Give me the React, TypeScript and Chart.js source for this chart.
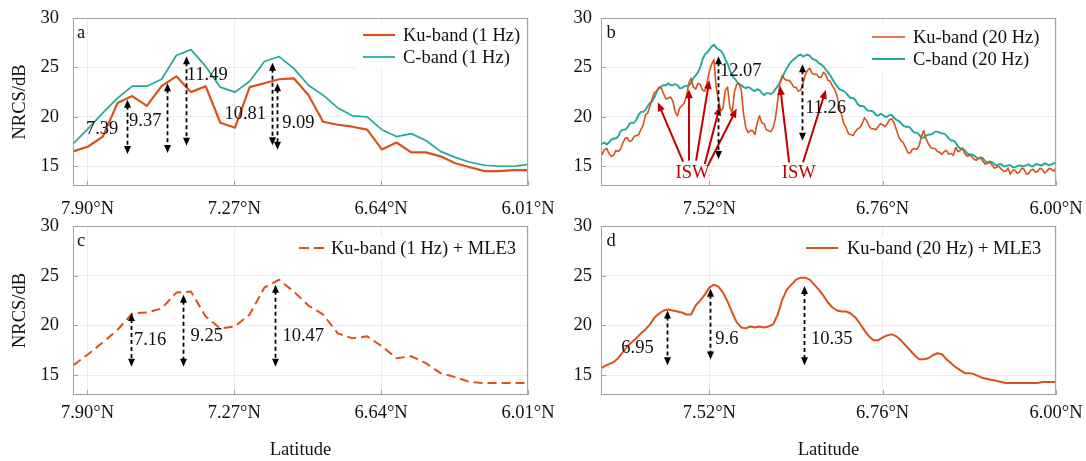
import React, { useEffect, useRef } from 'react';
import { Chart, registerables } from 'chart.js';

Chart.register(...registerables);

const FONT = '"Liberation Serif", "Times New Roman", Times, serif';
const FS = 18.5;
const KU = '#d95319';
const CB = '#20a89c';
const RED = '#c00000';
const TXT = '#111111';
const GRID = '#ebebeb';
const AXIS = '#a3a3a3';

// ---------- 1 Hz data (panels a, c) ----------
const lat1Hz = [7.960, 7.897, 7.834, 7.771, 7.708, 7.645, 7.582, 7.519, 7.456, 7.393, 7.330, 7.267, 7.204, 7.141, 7.078, 7.015,
  6.952, 6.889, 6.826, 6.763, 6.700, 6.637, 6.574, 6.511, 6.448, 6.385, 6.322, 6.259, 6.196, 6.133, 6.070, 6.007];
const ku1Hz = [16.5, 17.0, 18.0, 21.4, 22.1, 21.1, 23.1, 24.1, 22.5, 23.1, 19.4, 18.9, 23.0, 23.4, 23.8, 23.9,
  22.2, 19.5, 19.2, 19.0, 18.7, 16.7, 17.4, 16.4, 16.4, 16.0, 15.3, 14.9, 14.5, 14.5, 14.6, 14.6];
const c1Hz = [17.3, 18.8, 20.4, 21.9, 23.1, 23.1, 23.8, 26.2, 26.8, 25.1, 23.0, 22.5, 23.6, 25.6, 26.1, 24.9,
  23.2, 22.2, 20.9, 20.1, 20.0, 18.7, 18.0, 18.3, 17.6, 16.5, 15.9, 15.4, 15.1, 15.0, 15.0, 15.2];
const ku1HzMle3 = [16.0, 17.1, 18.3, 19.55, 21.2, 21.3, 21.7, 23.3, 23.4, 20.9, 19.7, 19.9, 21.1, 23.8, 24.6, 23.4,
  22.0, 21.1, 19.2, 18.7, 18.9, 17.9, 16.7, 16.9, 16.2, 15.2, 14.8, 14.3, 14.2, 14.2, 14.2, 14.2];

// ---------- 20 Hz data (panel b) ----------
const lat20Hz = [
  8.00, 7.99, 7.98, 7.97, 7.96, 7.95, 7.94, 7.93, 7.92, 7.91, 7.90, 7.89, 7.88, 7.87, 7.86, 7.85, 7.84, 7.83, 7.82, 7.81,
  7.80, 7.79, 7.78, 7.77, 7.76, 7.75, 7.74, 7.73, 7.72, 7.71, 7.70, 7.69, 7.68, 7.67, 7.66, 7.65, 7.64, 7.63, 7.62, 7.61,
  7.60, 7.59, 7.58, 7.57, 7.56, 7.55, 7.54, 7.53, 7.52, 7.51, 7.50, 7.49, 7.48, 7.47, 7.46, 7.45, 7.44, 7.43, 7.42, 7.41,
  7.40, 7.39, 7.38, 7.37, 7.36, 7.35, 7.34, 7.33, 7.32, 7.31, 7.30, 7.29, 7.28, 7.27, 7.26, 7.25, 7.24, 7.23, 7.22, 7.21,
  7.20, 7.19, 7.18, 7.17, 7.16, 7.15, 7.14, 7.13, 7.12, 7.11, 7.10, 7.09, 7.08, 7.07, 7.06, 7.05, 7.04, 7.03, 7.02, 7.01,
  7.00, 6.99, 6.98, 6.97, 6.96, 6.95, 6.94, 6.93, 6.92, 6.91, 6.90, 6.89, 6.88, 6.87, 6.86, 6.85, 6.84, 6.83, 6.82, 6.81,
  6.80, 6.79, 6.78, 6.77, 6.76, 6.75, 6.74, 6.73, 6.72, 6.71, 6.70, 6.69, 6.68, 6.67, 6.66, 6.65, 6.64, 6.63, 6.62, 6.61,
  6.60, 6.59, 6.58, 6.57, 6.56, 6.55, 6.54, 6.53, 6.52, 6.51, 6.50, 6.49, 6.48, 6.47, 6.46, 6.45, 6.44, 6.43, 6.42, 6.41,
  6.40, 6.39, 6.38, 6.37, 6.36, 6.35, 6.34, 6.33, 6.32, 6.31, 6.30, 6.29, 6.28, 6.27, 6.26, 6.25, 6.24, 6.23, 6.22, 6.21,
  6.20, 6.19, 6.18, 6.17, 6.16, 6.15, 6.14, 6.13, 6.12, 6.11, 6.10, 6.09, 6.08, 6.07, 6.06, 6.05, 6.04, 6.03, 6.02, 6.01,
  6.00];
const ku20Hz = [
  16.4, 16.2, 16.7, 16.8, 16.3, 16.0, 16.1, 16.6, 16.5, 16.7, 17.3, 17.8, 17.9, 17.5, 17.6, 18.0, 18.1, 18.2, 18.7, 19.2,
  20.2, 20.4, 21.1, 21.9, 22.5, 22.6, 23.0, 22.9, 22.3, 21.8, 21.9, 22.0, 21.6, 20.5, 20.1, 20.9, 21.1, 21.4, 22.1, 23.4,
  23.9, 23.0, 22.8, 23.4, 23.3, 22.7, 22.6, 23.5, 24.6, 25.3, 25.8, 23.0, 21.7, 20.6, 20.9, 22.7, 23.0, 21.0, 20.4, 22.5,
  23.3, 23.4, 22.7, 20.3, 18.9, 18.4, 18.6, 18.6, 18.2, 19.4, 20.1, 19.4, 19.3, 18.7, 18.6, 18.5, 18.9, 19.9, 21.7, 23.5,
  24.2, 23.8, 23.7, 23.7, 23.4, 23.0, 23.0, 22.6, 22.7, 23.3, 24.2, 24.7, 24.9, 24.4, 24.3, 24.3, 24.0, 24.0, 24.5, 24.3,
  23.7, 23.6, 23.1, 22.8, 22.1, 21.0, 20.2, 19.3, 18.9, 18.3, 18.2, 18.1, 18.5, 18.8, 18.9, 19.3, 19.9, 19.6, 19.1, 18.8,
  18.8, 18.7, 19.0, 19.3, 19.2, 19.0, 19.3, 19.7, 19.8, 19.4, 18.7, 18.0, 17.6, 17.4, 16.9, 16.4, 16.3, 16.7, 16.8, 16.7,
  17.1, 18.0, 18.6, 17.8, 17.3, 16.9, 16.8, 16.8, 16.5, 16.4, 16.2, 16.5, 16.6, 16.2, 16.3, 16.1, 16.9, 16.5, 16.6, 16.8,
  16.3, 16.0, 16.1, 16.0, 15.7, 15.6, 15.8, 15.8, 15.5, 15.2, 15.3, 15.4, 15.1, 14.8, 14.9, 15.0, 14.7, 14.5, 14.5, 14.8,
  14.2, 14.6, 14.6, 14.3, 14.4, 14.8, 14.7, 14.2, 14.3, 14.6, 14.7, 14.4, 14.5, 14.8, 14.7, 14.3, 14.5, 14.8, 14.7, 14.5,
  14.8];
const c20Hz = [
  17.0, 17.3, 17.4, 17.2, 17.4, 17.7, 17.8, 17.8, 18.0, 18.5, 18.7, 18.7, 18.9, 19.3, 19.4, 19.4, 19.7, 20.2, 20.5, 20.5,
  20.7, 21.1, 21.4, 21.6, 22.0, 22.6, 22.9, 23.1, 23.2, 23.2, 23.4, 23.2, 23.2, 23.3, 23.2, 22.9, 22.9, 23.1, 23.1, 23.2,
  23.4, 23.9, 24.2, 24.5, 25.0, 25.8, 26.3, 26.5, 26.8, 27.1, 27.3, 27.0, 26.8, 26.7, 26.4, 25.8, 25.4, 24.7, 24.2, 23.9,
  23.6, 23.3, 23.2, 23.0, 22.9, 23.0, 22.9, 22.7, 22.6, 22.8, 22.7, 22.4, 22.2, 22.4, 22.4, 22.3, 22.5, 22.8, 23.1, 23.5,
  24.0, 24.5, 24.9, 25.3, 25.6, 25.8, 26.0, 26.2, 26.3, 26.1, 26.2, 26.3, 26.2, 25.9, 25.8, 25.7, 25.4, 25.3, 25.1, 24.8,
  24.5, 24.2, 23.8, 23.4, 23.1, 22.8, 22.7, 22.6, 22.4, 22.1, 21.9, 21.9, 21.7, 21.3, 21.1, 21.1, 21.0, 20.7, 20.6, 20.6,
  20.5, 20.2, 20.1, 20.3, 20.2, 20.0, 20.0, 20.2, 20.2, 19.9, 19.7, 19.6, 19.4, 19.1, 19.0, 19.0, 18.9, 18.6, 18.4, 18.4,
  18.2, 17.9, 17.9, 18.1, 18.2, 18.2, 18.3, 18.5, 18.5, 18.4, 18.3, 18.3, 18.1, 17.8, 17.6, 17.6, 17.4, 17.0, 16.8, 16.8,
  16.6, 16.3, 16.2, 16.2, 16.1, 15.9, 15.8, 15.9, 15.8, 15.5, 15.4, 15.5, 15.4, 15.2, 15.1, 15.2, 15.2, 15.0, 15.0, 15.1,
  15.1, 14.9, 14.9, 15.0, 15.1, 15.0, 15.0, 15.1, 15.2, 15.0, 15.0, 15.2, 15.2, 15.1, 15.1, 15.3, 15.2, 15.1, 15.2, 15.3,
  15.4];

// ---------- 20 Hz + MLE3 data (panel d) ----------
const lat20HzMle3 = [8.00, 7.98, 7.96, 7.94, 7.92, 7.90, 7.88, 7.86, 7.84, 7.82, 7.80, 7.78, 7.76, 7.74, 7.72, 7.70, 7.68, 7.66, 7.64, 7.62,
  7.60, 7.58, 7.56, 7.54, 7.52, 7.50, 7.48, 7.46, 7.44, 7.42, 7.40, 7.38, 7.36, 7.34, 7.32, 7.30, 7.28, 7.26, 7.24, 7.22,
  7.20, 7.18, 7.16, 7.14, 7.12, 7.10, 7.08, 7.06, 7.04, 7.02, 7.00, 6.98, 6.96, 6.94, 6.92, 6.90, 6.88, 6.86, 6.84, 6.82,
  6.80, 6.78, 6.76, 6.74, 6.72, 6.70, 6.68, 6.66, 6.64, 6.62, 6.60, 6.58, 6.56, 6.54, 6.52, 6.50, 6.48, 6.46, 6.44, 6.42,
  6.40, 6.38, 6.36, 6.34, 6.32, 6.30, 6.28, 6.26, 6.24, 6.22, 6.20, 6.18, 6.16, 6.14, 6.12, 6.10, 6.08, 6.06, 6.04, 6.02, 6.00];
const ku20HzMle3 = [15.6, 15.9, 16.1, 16.3, 16.7, 17.3, 17.9, 18.3, 18.7, 19.2, 19.6, 20.1, 20.8, 21.2, 21.5, 21.6, 21.5, 21.4, 21.3, 21.1,
  21.1, 22.0, 22.5, 23.1, 23.8, 24.1, 23.9, 23.3, 22.4, 21.3, 20.3, 19.8, 19.7, 19.9, 19.8, 19.9, 19.8, 19.9, 20.1, 21.1,
  22.6, 23.6, 24.1, 24.6, 24.8, 24.8, 24.6, 24.1, 23.6, 23.0, 22.3, 21.8, 21.5, 21.4, 21.4, 21.2, 20.8, 20.2, 19.5, 18.9,
  18.5, 18.5, 18.8, 19.0, 19.1, 18.9, 18.5, 18.0, 17.5, 17.0, 16.6, 16.6, 16.7, 17.0, 17.2, 17.1, 16.6, 16.2, 15.8, 15.5,
  15.2, 15.2, 15.1, 14.9, 14.7, 14.6, 14.5, 14.4, 14.3, 14.2, 14.2, 14.2, 14.2, 14.2, 14.2, 14.2, 14.2, 14.3, 14.3, 14.3, 14.3];

// ---------- ticks ----------
const xTicks1Hz = [7.90, 7.27, 6.64, 6.01];
const xTicks20Hz = [7.52, 6.76, 6.00];
const yTicks = [15, 20, 25, 30];

// ---------- annotations (data coordinates) ----------
const arrowsA = [
  { x: 7.732, top: 21.73, bottom: 16.23 },
  { x: 7.558, top: 23.4, bottom: 16.33 },
  { x: 7.477, top: 26.13, bottom: 17.07 },
  { x: 7.110, top: 25.47, bottom: 17.13 },
  { x: 7.087, top: 23.4, bottom: 16.67 },
];
const notesA = [
  { x: 7.837, y: 18.73, text: '7.39' },
  { x: 7.652, y: 19.57, text: '9.37' },
  { x: 7.386, y: 24.23, text: '11.49' },
  { x: 7.223, y: 20.23, text: '10.81' },
  { x: 6.995, y: 19.4, text: '9.09' },
];
const arrowsB = [
  { x: 7.482, top: 26.13, bottom: 15.73 },
  { x: 7.113, top: 25.33, bottom: 17.57 },
];
const notesB = [
  { x: 7.382, y: 24.67, text: '12.07' },
  { x: 7.010, y: 20.9, text: '11.26' },
];
const iswArrowsB = [
  { x0: 7.635, y0: 15.47, x1: 7.746, y1: 21.47 },
  { x0: 7.609, y0: 15.57, x1: 7.609, y1: 22.8 },
  { x0: 7.578, y0: 15.57, x1: 7.520, y1: 23.73 },
  { x0: 7.540, y0: 15.23, x1: 7.474, y1: 21.07 },
  { x0: 7.525, y0: 15.13, x1: 7.400, y1: 20.83 },
  { x0: 7.170, y0: 15.4, x1: 7.210, y1: 23.13 },
  { x0: 7.109, y0: 15.4, x1: 7.009, y1: 22.73 },
];
const iswTextsB = [
  { x: 7.594, y: 14.3, text: 'ISW' },
  { x: 7.128, y: 14.3, text: 'ISW' },
];
const arrowsC = [
  { x: 7.713, top: 21.24, bottom: 15.84 },
  { x: 7.489, top: 23.09, bottom: 15.84 },
  { x: 7.097, top: 24.1, bottom: 15.84 },
];
const notesC = [
  { x: 7.631, y: 18.54, text: '7.16' },
  { x: 7.388, y: 18.88, text: '9.25' },
  { x: 6.974, y: 18.95, text: '10.47' },
];
const arrowsD = [
  { x: 7.704, top: 21.51, bottom: 16.0 },
  { x: 7.515, top: 23.69, bottom: 16.58 },
  { x: 7.106, top: 23.96, bottom: 16.0 },
];
const notesD = [
  { x: 7.835, y: 17.75, text: '6.95' },
  { x: 7.443, y: 18.66, text: '9.6' },
  { x: 6.983, y: 18.59, text: '10.35' },
];

type Series = { label: string; lat: number[]; values: number[]; color: string; width: number; dash?: number[] };
type Spec = {
  key: string; left: number; top: number; w: number; h: number;
  area: { l: number; r: number; t: number; b: number };
  xMin: number; xMax: number; xTicks: number[];
  yTitle: boolean; xTitle: boolean; xTickPad: number; yTickPad: number;
  series: Series[];
  letter: string; letterDx: number;
  legend: { lineStart: number; lineEnd: number; textX: number; rows: number[] };
  arrows: { x: number; top: number; bottom: number }[];
  notes: { x: number; y: number; text: string }[];
  isw: { x0: number; y0: number; x1: number; y1: number }[];
  iswTexts: { x: number; y: number; text: string }[];
};

const PANELS: Spec[] = [
  {
    key: 'a', left: 0, top: 0, w: 560, h: 232, area: { l: 73, r: 528, t: 18, b: 186 },
    xMin: 6.01, xMax: 7.962, xTicks: xTicks1Hz, yTitle: true, xTitle: false, xTickPad: 12, yTickPad: 14,
    series: [
      { label: 'Ku-band (1 Hz)', lat: lat1Hz, values: ku1Hz, color: KU, width: 2.2 },
      { label: 'C-band (1 Hz)', lat: lat1Hz, values: c1Hz, color: CB, width: 1.7 },
    ],
    letter: 'a', letterDx: 4,
    legend: { lineStart: -165, lineEnd: -133, textX: -125, rows: [17, 39] },
    arrows: arrowsA, notes: notesA, isw: [], iswTexts: [],
  },
  {
    key: 'b', left: 545, top: 0, w: 541, h: 232, area: { l: 56, r: 511, t: 18, b: 186 },
    xMin: 6.0, xMax: 7.995, xTicks: xTicks20Hz, yTitle: false, xTitle: false, xTickPad: 12, yTickPad: 9,
    series: [
      { label: 'Ku-band (20 Hz)', lat: lat20Hz, values: ku20Hz, color: KU, width: 1.6 },
      { label: 'C-band (20 Hz)', lat: lat20Hz, values: c20Hz, color: CB, width: 1.9 },
    ],
    letter: 'b', letterDx: 5.5,
    legend: { lineStart: -184, lineEnd: -151, textX: -143, rows: [19, 41] },
    arrows: arrowsB, notes: notesB, isw: iswArrowsB, iswTexts: iswTextsB,
  },
  {
    key: 'c', left: 0, top: 215, w: 560, h: 246, area: { l: 73, r: 528, t: 11, b: 180 },
    xMin: 6.01, xMax: 7.962, xTicks: xTicks1Hz, yTitle: true, xTitle: true, xTickPad: 7, yTickPad: 14,
    series: [
      { label: 'Ku-band (1 Hz) + MLE3', lat: lat1Hz, values: ku1HzMle3, color: KU, width: 2, dash: [9, 5] },
    ],
    letter: 'c', letterDx: 4,
    legend: { lineStart: -229, lineEnd: -202, textX: -197, rows: [22] },
    arrows: arrowsC, notes: notesC, isw: [], iswTexts: [],
  },
  {
    key: 'd', left: 545, top: 215, w: 541, h: 246, area: { l: 56, r: 511, t: 11, b: 180 },
    xMin: 6.0, xMax: 7.995, xTicks: xTicks20Hz, yTitle: false, xTitle: true, xTickPad: 7, yTickPad: 9,
    series: [
      { label: 'Ku-band (20 Hz) + MLE3', lat: lat20HzMle3, values: ku20HzMle3, color: KU, width: 2 },
    ],
    letter: 'd', letterDx: 5.5,
    legend: { lineStart: -250, lineEnd: -218, textX: -209, rows: [22] },
    arrows: arrowsD, notes: notesD, isw: [], iswTexts: [],
  },
];

function arrowHead(ctx: CanvasRenderingContext2D, tx: number, ty: number, fx: number, fy: number, len: number, half: number) {
  const ang = Math.atan2(ty - fy, tx - fx);
  const c = Math.cos(ang), s = Math.sin(ang);
  ctx.beginPath();
  ctx.moveTo(tx, ty);
  ctx.lineTo(tx - len * c + half * s, ty - len * s - half * c);
  ctx.lineTo(tx - len * c - half * s, ty - len * s + half * c);
  ctx.closePath();
  ctx.fill();
}

function decoPlugin(spec: Spec) {
  return {
    id: 'deco_' + spec.key,
    afterDraw(chart: any) {
      const { ctx, chartArea: ca, scales } = chart;
      const xs = scales.x, ys = scales.y;
      ctx.save();

      // inner tick marks
      ctx.strokeStyle = AXIS;
      ctx.lineWidth = 1;
      ctx.beginPath();
      spec.xTicks.forEach((v) => {
        const px = Math.round(xs.getPixelForValue(v)) + 0.5;
        ctx.moveTo(px, ca.bottom);
        ctx.lineTo(px, ca.bottom - 5);
      });
      yTicks.forEach((v) => {
        const py = Math.round(ys.getPixelForValue(v)) + 0.5;
        ctx.moveTo(ca.left, py);
        ctx.lineTo(ca.left + 5, py);
      });
      ctx.stroke();

      // legend box + entries
      const lg = spec.legend;
      const rows = lg.rows;
      ctx.fillStyle = '#ffffff';
      ctx.fillRect(ca.right + lg.lineStart - 7, ca.top + rows[0] - 12, -lg.lineStart + 6, rows[rows.length - 1] - rows[0] + 24);
      ctx.font = `${FS}px ${FONT}`;
      ctx.textBaseline = 'middle';
      ctx.textAlign = 'left';
      spec.series.forEach((s, i) => {
        const yy = ca.top + rows[i];
        ctx.strokeStyle = s.color;
        ctx.lineWidth = s.width;
        ctx.setLineDash(s.dash ? [10, 5] : []);
        ctx.beginPath();
        ctx.moveTo(ca.right + lg.lineStart, yy);
        ctx.lineTo(ca.right + lg.lineEnd, yy);
        ctx.stroke();
        ctx.setLineDash([]);
        ctx.fillStyle = TXT;
        ctx.fillText(s.label, ca.right + lg.textX, yy + 1);
      });

      // panel letter
      ctx.fillStyle = TXT;
      ctx.textBaseline = 'alphabetic';
      ctx.fillText(spec.letter, ca.left + spec.letterDx, ca.top + 20);

      // ISW arrows
      ctx.strokeStyle = RED;
      ctx.fillStyle = RED;
      ctx.lineWidth = 2;
      spec.isw.forEach((a) => {
        const x0 = xs.getPixelForValue(a.x0), y0 = ys.getPixelForValue(a.y0);
        const x1 = xs.getPixelForValue(a.x1), y1 = ys.getPixelForValue(a.y1);
        const ang = Math.atan2(y1 - y0, x1 - x0);
        ctx.beginPath();
        ctx.moveTo(x0, y0);
        ctx.lineTo(x1 - 6 * Math.cos(ang), y1 - 6 * Math.sin(ang));
        ctx.stroke();
        arrowHead(ctx, x1, y1, x0, y0, 9, 3.8);
      });
      ctx.textAlign = 'center';
      ctx.textBaseline = 'middle';
      spec.iswTexts.forEach((t) => {
        ctx.fillText(t.text, xs.getPixelForValue(t.x), ys.getPixelForValue(t.y));
      });

      // black dashed double arrows
      ctx.strokeStyle = '#000000';
      ctx.fillStyle = '#000000';
      ctx.lineWidth = 1.8;
      spec.arrows.forEach((a) => {
        const px = Math.round(xs.getPixelForValue(a.x)) + 0.5;
        const yt = ys.getPixelForValue(a.top);
        const yb = ys.getPixelForValue(a.bottom);
        ctx.setLineDash([4, 3]);
        ctx.beginPath();
        ctx.moveTo(px, yt + 6);
        ctx.lineTo(px, yb - 6);
        ctx.stroke();
        ctx.setLineDash([]);
        arrowHead(ctx, px, yt, px, yb, 8, 3.5);
        arrowHead(ctx, px, yb, px, yt, 8, 3.5);
      });

      // value labels
      ctx.fillStyle = TXT;
      ctx.font = `${FS}px ${FONT}`;
      ctx.textAlign = 'center';
      ctx.textBaseline = 'middle';
      spec.notes.forEach((n) => {
        ctx.fillText(n.text, xs.getPixelForValue(n.x), ys.getPixelForValue(n.y));
      });

      // axes box
      ctx.strokeStyle = AXIS;
      ctx.lineWidth = 1;
      ctx.strokeRect(ca.left + 0.5, ca.top + 0.5, ca.right - ca.left - 1, ca.bottom - ca.top - 1);
      ctx.restore();
    },
  };
}

function buildConfig(spec: Spec): any {
  const font = { family: FONT, size: FS };
  return {
    type: 'line',
    data: {
      datasets: spec.series.map((s) => ({
        label: s.label,
        data: s.lat.map((x, i) => ({ x, y: s.values[i] })),
        borderColor: s.color,
        backgroundColor: s.color,
        borderWidth: s.width,
        borderDash: s.dash || [],
        borderJoinStyle: 'round',
        pointRadius: 0,
        tension: 0,
        fill: false,
      })),
    },
    options: {
      animation: false,
      responsive: false,
      devicePixelRatio: 1,
      events: [],
      layout: { padding: { left: 0, top: spec.area.t, right: spec.w - spec.area.r, bottom: 0 } },
      plugins: { legend: { display: false }, tooltip: { enabled: false }, title: { display: false } },
      scales: {
        x: {
          type: 'linear',
          reverse: true,
          min: spec.xMin,
          max: spec.xMax,
          afterBuildTicks: (s: any) => { s.ticks = spec.xTicks.map((v) => ({ value: v })); },
          afterFit: (s: any) => { s.height = spec.h - spec.area.b; s.paddingLeft = 0; s.paddingRight = 0; },
          grid: { color: GRID, drawTicks: false, lineWidth: 1 },
          border: { display: false },
          ticks: {
            font, color: TXT, padding: spec.xTickPad, autoSkip: false, maxRotation: 0,
            callback: (v: any) => Number(v).toFixed(2) + '°N',
          },
          title: { display: spec.xTitle, text: 'Latitude', font, color: TXT, padding: { top: 0, bottom: 0 } },
        },
        y: {
          type: 'linear',
          min: 13,
          max: 30,
          afterBuildTicks: (s: any) => { s.ticks = yTicks.map((v) => ({ value: v })); },
          afterFit: (s: any) => { s.width = spec.area.l; s.paddingTop = 0; s.paddingBottom = 0; },
          grid: { color: GRID, drawTicks: false, lineWidth: 1 },
          border: { display: false },
          ticks: { font, color: TXT, padding: spec.yTickPad },
          title: { display: spec.yTitle, text: 'NRCS/dB', font, color: TXT, padding: { top: 9, bottom: 0 } },
        },
      },
    },
    plugins: [decoPlugin(spec)],
  };
}

function Panel({ spec }: { spec: Spec }) {
  const ref = useRef<HTMLCanvasElement>(null);
  useEffect(() => {
    if (!ref.current) return;
    const chart = new Chart(ref.current, buildConfig(spec));
    return () => chart.destroy();
  }, [spec]);
  return (
    <canvas
      ref={ref}
      width={spec.w}
      height={spec.h}
      style={{ position: 'absolute', left: spec.left, top: spec.top, width: spec.w, height: spec.h }}
    />
  );
}

export default function App() {
  return (
    <div style={{ position: 'fixed', left: 0, top: 0, width: 1086, height: 461, background: '#ffffff', overflow: 'hidden' }}>
      {PANELS.map((p) => <Panel key={p.key} spec={p} />)}
    </div>
  );
}
